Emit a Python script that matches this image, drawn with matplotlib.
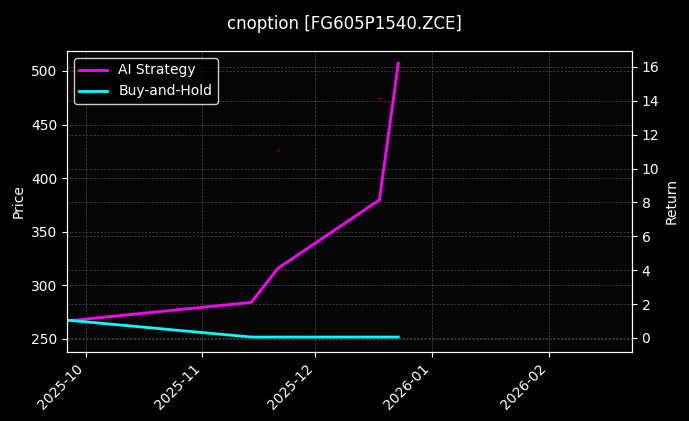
import matplotlib
matplotlib.use("Agg")
import matplotlib.pyplot as plt
import matplotlib.dates as mdates
import pandas as pd

dates = pd.to_datetime(["2025-09-26", "2025-11-14", "2025-11-21", "2025-12-18", "2025-12-23"])
ai_ret = [1.0, 2.1, 4.1, 8.15, 16.2]
bh_ret = [1.05, 0.05, 0.05, 0.05, 0.05]
price_dates = pd.to_datetime(["2025-11-21", "2025-12-18"])
price = [426, 475]

plt.style.use("dark_background")
fig, ax = plt.subplots(figsize=(6.89, 4.21), dpi=100)
fig.patch.set_facecolor("black")
ax.set_facecolor("#050505")
ax.scatter(price_dates, price, s=0.5, color="#aa0000")
ax.set_ylim(237.9, 518.7)
ax.set_ylabel("Price")
ax.grid(True, color="gray", linestyle="--", linewidth=0.5, alpha=0.5)
ax2 = ax.twinx()
ax2.plot(dates, ai_ret, color="magenta", lw=2, label="AI Strategy")
ax2.plot(dates, bh_ret, color="cyan", lw=2, label="Buy-and-Hold")
ax2.set_ylim(-0.83, 16.94)
ax2.set_yticks(range(0, 17, 2))
ax2.set_ylabel("Return")
ax2.grid(True, color="gray", linestyle="--", linewidth=0.5, alpha=0.5)
ax.set_xlim(pd.Timestamp("2025-09-26"), pd.Timestamp("2026-02-23"))
ax.xaxis.set_major_locator(mdates.MonthLocator())
ax.xaxis.set_major_formatter(mdates.DateFormatter("%Y-%m"))
for lab in ax.get_xticklabels():
    lab.set_rotation(45)
    lab.set_ha("right")
ax2.legend(loc="upper left", facecolor="black", edgecolor="white")
fig.suptitle("cnoption [FG605P1540.ZCE]", y=0.965, fontsize=12)
fig.subplots_adjust(left=0.097, right=0.917, top=0.879, bottom=0.164)
fig.savefig("out.png", facecolor="black")
